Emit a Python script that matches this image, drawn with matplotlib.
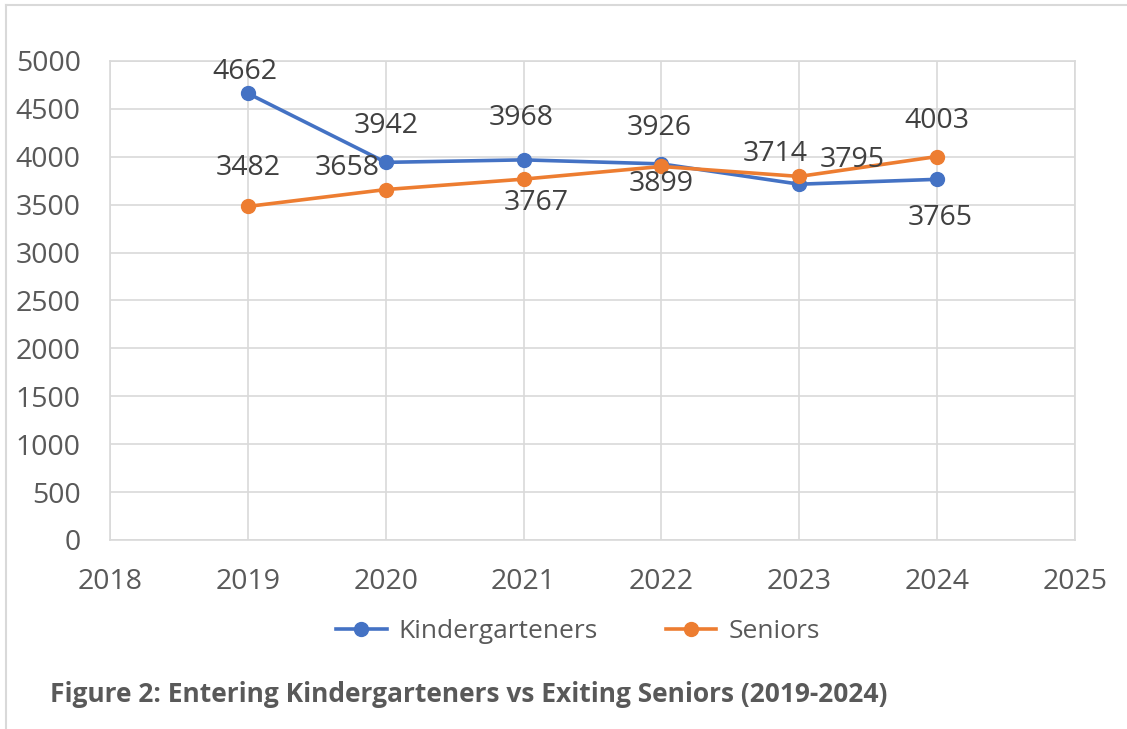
import matplotlib

matplotlib.use("Agg")
import matplotlib.pyplot as plt
from matplotlib.lines import Line2D

years = [2019, 2020, 2021, 2022, 2023, 2024]
kinder = [4662, 3942, 3968, 3926, 3714, 3765]
seniors = [3482, 3658, 3767, 3899, 3795, 4003]

# offsets of the data labels, pixels (dx, dy up)
kinder_off = [(-3, 21), (0, 36), (-2, 42), (-2, 36), (-24, 30), (3, -39)]
seniors_off = [(0, 38), (-39, 22), (13, -24), (0, -18), (53, 16), (0, 36)]

BLUE = "#4472C4"
ORANGE = "#ED7D31"
GRID = "#D9D9D9"
TXT = "#404040"
TICK = "#595959"

plt.rcParams["font.family"] = ["Open Sans", "DejaVu Sans"]

W, H = 1127, 729
fig = plt.figure(figsize=(W / 100, H / 100), dpi=100)
ax = fig.add_axes([110 / W, 1 - 540 / H, (1075 - 110) / W, (540 - 61) / H])

ax.plot(years, kinder, color=BLUE, lw=2.6, marker="o", ms=10, label="Kindergarteners", zorder=3)
ax.plot(years, seniors, color=ORANGE, lw=2.6, marker="o", ms=10, label="Seniors", zorder=3)

for xs, ys, offs in ((years, kinder, kinder_off), (years, seniors, seniors_off)):
    for x, y, (dx, dy) in zip(xs, ys, offs):
        ax.annotate(str(y), (x, y), xytext=(dx, dy), textcoords="offset pixels",
                    ha="center", va="center", fontsize=20.5, color=TXT, zorder=4)

# leader lines (3968 and 3714)
tr = ax.transData
inv = tr.inverted()
for (x0, y0), path in (((2021, 3968), [(0, 0), (5, 19)]),
                       ((2023, 3795), [(0, 0), (15, 18), (28, 18)])):
    px0, py0 = tr.transform((x0, y0))
    pts = [inv.transform((px0 + a, py0 + b)) for a, b in path]
    ax.plot([p[0] for p in pts], [p[1] for p in pts], color="#A6A6A6", lw=1, zorder=2)

ax.set_xlim(2018, 2025)
ax.set_ylim(0, 5000)
ax.set_xticks(range(2018, 2026))
ax.set_yticks(range(0, 5001, 500))
ax.grid(True, color=GRID, lw=1.2, zorder=0)
ax.set_axisbelow(True)
for s in ax.spines.values():
    s.set_color(GRID)
    s.set_linewidth(1.2)
ax.tick_params(length=0, labelsize=20.5, colors=TICK)
ax.tick_params(axis="y", pad=21)
ax.tick_params(axis="x", pad=20)

handles = [Line2D([], [], color=BLUE, lw=2.6, marker="o", ms=10),
           Line2D([], [], color=ORANGE, lw=2.6, marker="o", ms=10)]
leg = fig.legend(handles, ["Kindergarteners", "Seniors"], loc="center",
                 bbox_to_anchor=(578 / W, 1 - 632 / H), ncol=2, frameon=False,
                 handlelength=1.9, columnspacing=2.6, handletextpad=0.45,
                 prop={"size": 19})
for t in leg.get_texts():
    t.set_color(TICK)

fig.text(50 / W, 1 - 695 / H, "Figure 2: Entering Kindergarteners vs Exiting Seniors (2019-2024)",
         ha="left", va="center", fontsize=19, fontweight="bold", color=TICK)

# chart border (top and left)
fig.add_artist(Line2D([6 / W, 6 / W], [0, 1 - 5 / H], color=GRID, lw=1.5, transform=fig.transFigure))
fig.add_artist(Line2D([6 / W, 1], [1 - 5 / H, 1 - 5 / H], color=GRID, lw=1.5, transform=fig.transFigure))

fig.savefig("out.png", dpi=100)
